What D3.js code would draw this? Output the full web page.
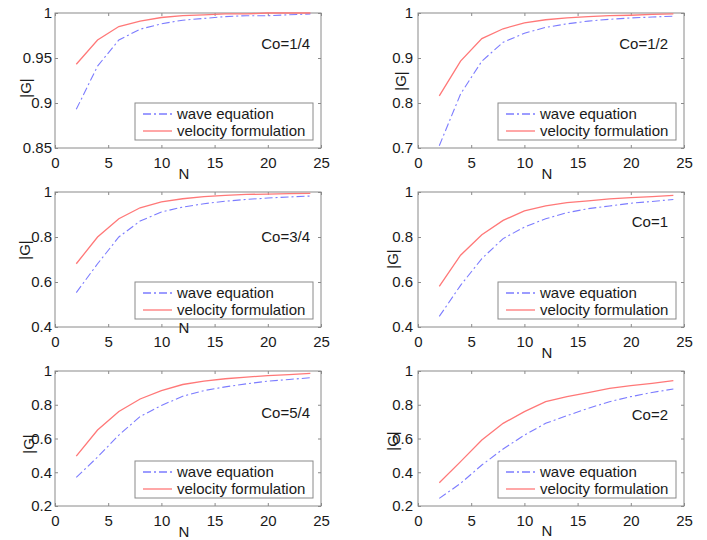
<!DOCTYPE html>
<html>
<head>
<meta charset="utf-8">
<script src="https://cdn.jsdelivr.net/npm/d3@7"></script>
<style>
  body { margin: 0; background: #fff; }
  text { font-family: Arial, "Liberation Sans", sans-serif; fill: #1a1a1a; }
</style>
</head>
<body>
<svg id="fig" width="707" height="540"></svg>
<script>
// Grid resolution N (points per wavelength)
const N = [2, 4, 6, 8, 10, 12, 14, 16, 18, 20, 22, 24];

// Courant numbers, one panel each
const courant = ["Co=1/4", "Co=1/2", "Co=3/4", "Co=1", "Co=5/4", "Co=2"];

// Amplification factor |G| — wave equation scheme
const waveCo14 = [0.893, 0.941, 0.970, 0.982, 0.988, 0.992, 0.994, 0.996, 0.997, 0.997, 0.998, 0.999];
const waveCo12 = [0.705, 0.820, 0.893, 0.935, 0.955, 0.968, 0.976, 0.982, 0.986, 0.989, 0.991, 0.993];
const waveCo34 = [0.553, 0.681, 0.800, 0.871, 0.911, 0.933, 0.948, 0.959, 0.967, 0.973, 0.978, 0.982];
const waveCo1  = [0.447, 0.585, 0.704, 0.793, 0.844, 0.881, 0.908, 0.926, 0.938, 0.950, 0.958, 0.967];
const waveCo54 = [0.370, 0.490, 0.620, 0.730, 0.796, 0.850, 0.884, 0.906, 0.924, 0.940, 0.950, 0.960];
const waveCo2  = [0.245, 0.334, 0.443, 0.538, 0.620, 0.690, 0.735, 0.779, 0.818, 0.848, 0.873, 0.893];

// Amplification factor |G| — velocity formulation
const velCo14 = [0.943, 0.970, 0.985, 0.991, 0.995, 0.997, 0.998, 0.999, 0.999, 1.000, 1.000, 1.000];
const velCo12 = [0.816, 0.893, 0.943, 0.965, 0.978, 0.985, 0.989, 0.992, 0.994, 0.995, 0.997, 0.998];
const velCo34 = [0.681, 0.800, 0.881, 0.930, 0.956, 0.970, 0.979, 0.985, 0.989, 0.991, 0.993, 0.994];
const velCo1  = [0.581, 0.719, 0.810, 0.874, 0.916, 0.938, 0.953, 0.961, 0.969, 0.975, 0.979, 0.985];
const velCo54 = [0.496, 0.650, 0.760, 0.834, 0.884, 0.920, 0.940, 0.954, 0.964, 0.972, 0.978, 0.986];
const velCo2  = [0.338, 0.463, 0.591, 0.690, 0.759, 0.818, 0.848, 0.872, 0.897, 0.913, 0.927, 0.943];

// Axis ticks
const xTicks = [0, 5, 10, 15, 20, 25];
const yTicks1 = [0.85, 0.9, 0.95, 1];
const yTicks2 = [0.7, 0.8, 0.9, 1];
const yTicks3 = [0.4, 0.6, 0.8, 1];
const yTicks4 = [0.2, 0.4, 0.6, 0.8, 1];

const seriesNames = ["wave equation", "velocity formulation"];

const panels = [
  { co: courant[0], wave: waveCo14, vel: velCo14, yt: yTicks1 },
  { co: courant[1], wave: waveCo12, vel: velCo12, yt: yTicks2 },
  { co: courant[2], wave: waveCo34, vel: velCo34, yt: yTicks3 },
  { co: courant[3], wave: waveCo1,  vel: velCo1,  yt: yTicks3 },
  { co: courant[4], wave: waveCo54, vel: velCo54, yt: yTicks4 },
  { co: courant[5], wave: waveCo2,  vel: velCo2,  yt: yTicks4 }
];

// Layout of the 3x2 grid of axes
const cols = [[55, 321], [418, 684]];
const rows = [[13, 148], [192, 327], [371, 506]];
const coLabelDx = [-11, -16];
const coLabelDy = [36, 36, 50, 35, 47, 49];
const xLabelDy  = [31, 31, 6, 31, 31, 30];
const yLabelCx  = [[26, 88], [401, 81], [25, 250], [393, 259], [29, 444], [393, 441]];

const FS = 15;
const boxColor = "#8a8a8a";
const waveColor = "#7c7cff";
const velColor = "#ff7878";
const waveDash = "8,3,2,3";

const svg = d3.select("#fig");

panels.forEach((p, i) => {
  const [x0, x1] = cols[i % 2];
  const [y0, y1] = rows[Math.floor(i / 2)];
  const x = d3.scaleLinear().domain([0, 25]).range([x0, x1]);
  const y = d3.scaleLinear().domain([p.yt[0], 1]).range([y1, y0]);
  const g = svg.append("g");

  // bottom axis with inward ticks
  const ax = g.append("g").attr("transform", `translate(0,${y1})`)
    .call(d3.axisBottom(x).tickValues(xTicks).tickSizeInner(-3).tickSizeOuter(0).tickPadding(9).tickFormat(d3.format("d")));
  // top axis ticks only
  const axT = g.append("g").attr("transform", `translate(0,${y0})`)
    .call(d3.axisTop(x).tickValues(xTicks).tickSizeInner(-3).tickSizeOuter(0).tickFormat(""));
  // left axis
  const ay = g.append("g").attr("transform", `translate(${x0},0)`)
    .call(d3.axisLeft(y).tickValues(p.yt).tickSizeInner(-3).tickSizeOuter(0).tickPadding(i % 2 ? 5 : 3).tickFormat(d => String(+d.toFixed(2))));
  // right axis ticks only
  const ayR = g.append("g").attr("transform", `translate(${x1},0)`)
    .call(d3.axisRight(y).tickValues(p.yt).tickSizeInner(-3).tickSizeOuter(0).tickFormat(""));

  [ax, axT, ay, ayR].forEach(a => {
    a.select(".domain").remove();
    a.selectAll("line").attr("stroke", boxColor);
    a.selectAll("text").attr("font-size", FS).attr("fill", "#1a1a1a")
      .attr("font-family", 'Arial, "Liberation Sans", sans-serif');
  });

  // axes box
  g.append("rect").attr("x", x0).attr("y", y0).attr("width", x1 - x0).attr("height", y1 - y0)
    .attr("fill", "none").attr("stroke", boxColor).attr("stroke-width", 1);

  const line = d3.line().x((d, k) => x(N[k])).y(d => y(d));

  g.append("path").datum(p.wave).attr("d", line)
    .attr("fill", "none").attr("stroke", waveColor).attr("stroke-width", 1.1)
    .attr("stroke-dasharray", waveDash);
  g.append("path").datum(p.vel).attr("d", line)
    .attr("fill", "none").attr("stroke", velColor).attr("stroke-width", 1.3);

  // Courant annotation
  g.append("text").attr("x", x1 + coLabelDx[i % 2]).attr("y", y0 + coLabelDy[i])
    .attr("text-anchor", "end").attr("font-size", FS).text(p.co);

  // axis labels
  g.append("text").attr("x", (x0 + x1) / 2 - 4).attr("y", y1 + xLabelDy[i])
    .attr("text-anchor", "middle").attr("font-size", FS).text("N");
  const [lx, ly] = yLabelCx[i];
  g.append("text").attr("transform", `translate(${lx + 5},${ly}) rotate(-90)`)
    .attr("text-anchor", "middle").attr("font-size", FS).text("|G|");

  // legend
  const lgX = x1 - 186, lgY = y1 - 45;
  const lg = g.append("g").attr("transform", `translate(${lgX},${lgY})`);
  lg.append("rect").attr("width", 178).attr("height", 37)
    .attr("fill", "#fff").attr("stroke", boxColor);
  const items = [
    { name: seriesNames[0], color: waveColor, dash: waveDash },
    { name: seriesNames[1], color: velColor, dash: null }
  ];
  items.forEach((it, k) => {
    const cy = 11 + k * 17;
    lg.append("line").attr("x1", 8).attr("x2", 37).attr("y1", cy).attr("y2", cy)
      .attr("stroke", it.color).attr("stroke-width", 1.3)
      .attr("stroke-dasharray", it.dash);
    lg.append("text").attr("x", 42).attr("y", cy + 5).attr("font-size", FS).text(it.name);
  });
});
</script>
</body>
</html>
